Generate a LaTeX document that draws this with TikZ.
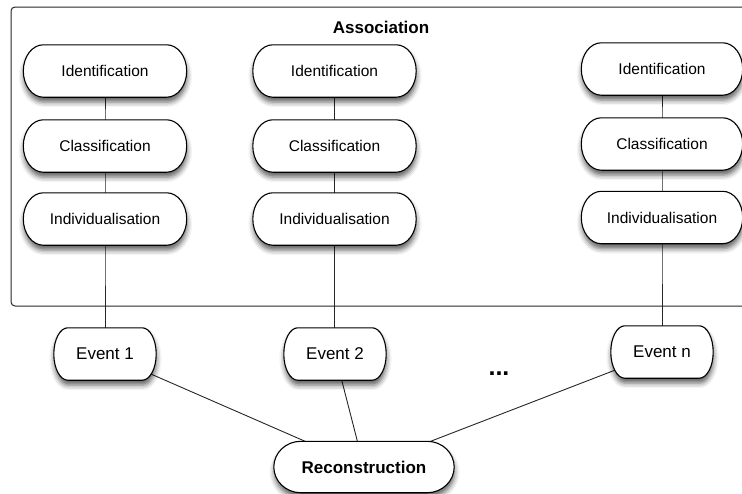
\documentclass[tikz,border=0pt]{standalone}
\usepackage{fontspec}
\setmainfont{Liberation Sans}
\usetikzlibrary{calc,shadows.blur}

\pgfdeclarelayer{links}
\pgfdeclarelayer{boxes}
\pgfsetlayers{links,boxes,main}

\tikzset{
  softshadow/.style={blur shadow={shadow xshift=0.5pt, shadow yshift=-5pt,
      shadow blur radius=5pt, shadow opacity=62}},
  boxline/.style={draw=black, line width=1.1pt, fill=white, softshadow},
  stagebox/.style={rectangle, inner sep=0pt, minimum width=163pt,
      minimum height=52pt, font=\fontsize{15.5}{18}\selectfont},
  eventbox/.style={rectangle, inner sep=0pt, minimum width=102pt,
      minimum height=52pt, font=\fontsize{17}{20}\selectfont},
  resultbox/.style={rectangle, inner sep=0pt, minimum width=180pt,
      minimum height=51pt, font=\bfseries\fontsize{17}{20}\selectfont},
  link/.style={draw=black!85, line width=0.9pt},
  frame/.style={draw=black!85, line width=1pt, rounded corners=4pt},
}

% outline of a node: flat top and bottom, half-ellipse ends of width #2
\newcommand\capsuleoutline[2]{%
  \path[boxline] let \p1=(#1.north west), \p2=(#1.south east) in
    ({\x1+#2pt},\y1)
    arc[start angle=90, end angle=270, x radius=#2pt, y radius={(\y1-\y2)/2}]
    -- ({\x2-#2pt},\y2)
    arc[start angle=-90, end angle=90, x radius=#2pt, y radius={(\y1-\y2)/2}]
    -- cycle;}

\begin{document}
\begin{tikzpicture}[x=1pt,y=-1pt]
\useasboundingbox (0,0) rectangle (742,493);
\clip (0,0) rectangle (742,493);

% association frame, running off the right edge
\draw[frame] (11,7) rectangle (770,306);
\node[font=\bfseries\fontsize{17}{20}\selectfont] (assoc) at (381,27) {Association};

% first column
\node[stagebox] (id1) at (105,71) {Identification};
\node[stagebox] (cl1) at (105,146) {Classification};
\node[stagebox] (in1) at (105,219) {Individualisation};

% second column
\node[stagebox] (id2) at (334.5,71) {Identification};
\node[stagebox] (cl2) at (334.5,146) {Classification};
\node[stagebox] (in2) at (334.5,219) {Individualisation};

% last column
\node[stagebox, minimum width=161pt] (id3) at (662,69) {Identification};
\node[stagebox, minimum width=161pt] (cl3) at (662,144) {Classification};
\node[stagebox, minimum width=161pt] (in3) at (662,217.5) {Individualisation};

% events
\node[eventbox] (ev1) at (105,354) {Event 1};
\node[eventbox] (ev2) at (335,354) {Event 2};
\node[eventbox] (evn) at (662,352) {Event n};
\node[font=\bfseries\fontsize{25}{28}\selectfont, anchor=base] (dots) at (499,375.5) {...};

% reconstruction
\node[resultbox] (rec) at (364,467) {Reconstruction};

% box outlines beneath the labels
\begin{pgfonlayer}{boxes}
  \foreach \nd in {id1,cl1,in1,id2,cl2,in2,id3,cl3,in3} {\capsuleoutline{\nd}{20}}
  \foreach \nd in {ev1,ev2,evn} {\capsuleoutline{\nd}{14}}
  \capsuleoutline{rec}{27}
\end{pgfonlayer}

% connectors, tucked under the boxes
\begin{pgfonlayer}{links}
  \draw[link] (id1.center) -- (cl1.center) -- (in1.center) -- (ev1.center);
  \draw[link] (id2.center) -- (cl2.center) -- (in2.center) -- (in2.center |- ev2.center);
  \draw[link] (id3.center) -- (cl3.center) -- (in3.center) -- (evn.center);
  \draw[link] (ev1.center) -- (rec.center);
  \draw[link] (ev2.center) -- (rec.center);
  \draw[link] (evn.center) -- (rec.center);
\end{pgfonlayer}
\end{tikzpicture}
\end{document}
